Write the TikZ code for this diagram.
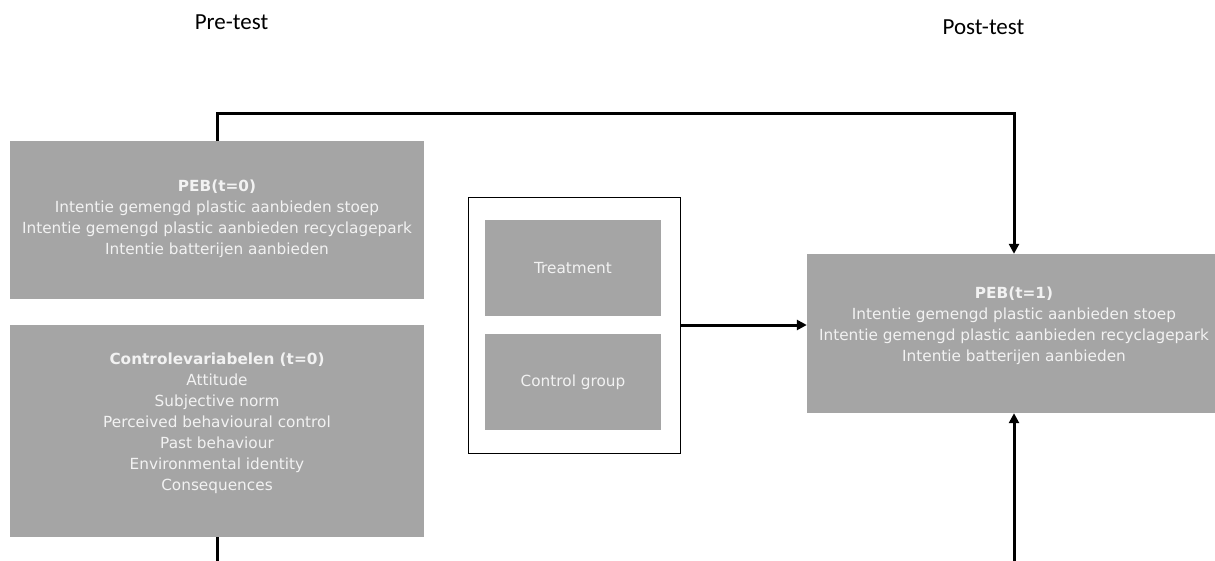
\documentclass[tikz,border=0pt]{standalone}
\usepackage{fontspec}
\setmainfont{DejaVu Sans}
\newfontfamily\headfont{Carlito}
\usetikzlibrary{arrows.meta}
\definecolor{boxgray}{HTML}{A5A5A5}
\definecolor{boxtext}{HTML}{F2F2F2}

\begin{document}
\begin{tikzpicture}[x=1pt,y=-1pt,
    box/.style={fill=boxgray, inner sep=0pt},
    boxlabel/.style={text=boxtext, align=center, inner sep=0pt, font=\fontsize{15.3}{21}\selectfont},
    head/.style={font=\headfont\fontsize{23}{26}\selectfont},
    link/.style={line width=3pt, -{Triangle[length=10pt,width=10pt]}}]
    \clip (0,0) rectangle (1215,560);
    \fill[white] (0,0) rectangle (1215,560);

    \node[head] (pre) at (231.5,22) {Pre-test};
    \node[head] (post) at (983.5,27) {Post-test};

    \node[box, minimum width=414pt, minimum height=158pt] (peb0) at (217,220) {};
    \node[boxlabel] (peb0text) at ([yshift=1pt]peb0) {\textbf{PEB(t=0)}\\Intentie gemengd plastic aanbieden stoep\\Intentie gemengd plastic aanbieden recyclagepark\\Intentie batterijen aanbieden};

    \node[box, minimum width=414pt, minimum height=212pt] (ctrl) at (217,431) {};
    \node[boxlabel] (ctrltext) at ([yshift=8pt]ctrl) {\textbf{Controlevariabelen (t=0)}\\Attitude\\Subjective norm\\Perceived behavioural control\\Past behaviour\\Environmental identity\\Consequences};

    \node[draw, line width=0.8pt, minimum width=212pt, minimum height=256pt, inner sep=0pt] (grp) at (574,325) {};
    \node[box, minimum width=176pt, minimum height=96pt] (treat) at (573,268) {};
    \node[boxlabel] (treattext) at (treat) {Treatment};
    \node[box, minimum width=176pt, minimum height=96pt] (cgrp) at (573,382) {};
    \node[boxlabel] (cgrptext) at (cgrp) {Control group};

    \node[box, minimum width=414pt, minimum height=159pt] (peb1) at (1014,333.5) {};
    \node[boxlabel] (peb1text) at ([yshift=8pt]peb1) {\textbf{PEB(t=1)}\\Intentie gemengd plastic aanbieden stoep\\Intentie gemengd plastic aanbieden recyclagepark\\Intentie batterijen aanbieden};

    \coordinate (bottom) at (1014,565);
    \draw[link] (peb0.north) -- ++(0,-27) -| (peb1.north);
    \draw[link] (grp.east) -- (grp.east -| peb1.west);
    \draw[link] (ctrl.south) |- (bottom) -- (peb1.south);
\end{tikzpicture}
\end{document}
